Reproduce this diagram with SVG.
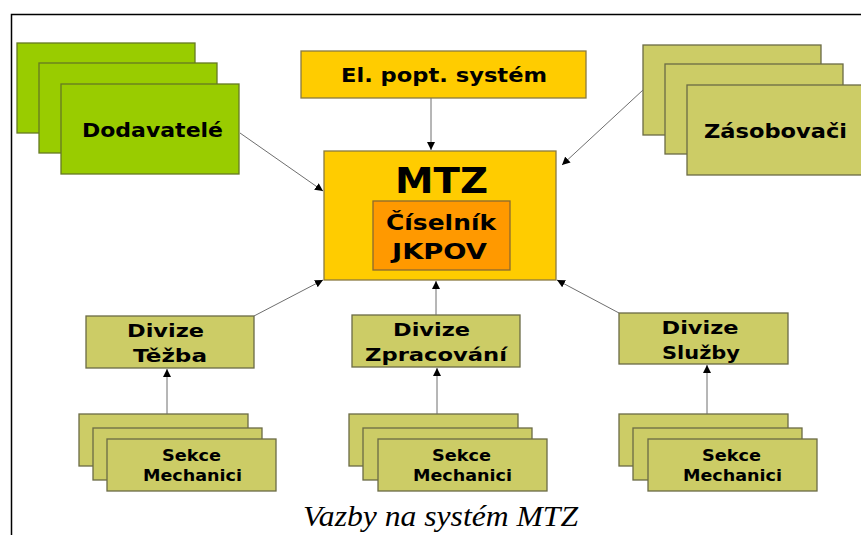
<svg xmlns="http://www.w3.org/2000/svg" width="861" height="535" viewBox="0 0 861 535">
<defs>
<marker id="ah" viewBox="0 0 10 10" refX="10" refY="5" markerWidth="8" markerHeight="8" markerUnits="userSpaceOnUse" orient="auto">
<path d="M0,0 L10,5 L0,10 z" fill="#000"/>
</marker>
<style>
.g{fill:#99cc00;stroke:#667a22;stroke-width:1.3}
.o{fill:#cccc66;stroke:#6b6b45;stroke-width:1.3}
.y{fill:#ffcc00;stroke:#8a7a40;stroke-width:1.3}
.or{fill:#ff9900;stroke:#8a6a30;stroke-width:1.3}
.t{font-family:"DejaVu Sans",Verdana,sans-serif;font-weight:bold;fill:#000;text-anchor:middle}
.c{stroke:#6e6e6e;stroke-width:1;fill:none;marker-end:url(#ah)}
</style>
</defs>
<rect width="861" height="535" fill="#fff"/>
<path d="M11.5,535 V14.5 H861" fill="none" stroke="#000" stroke-width="1.5"/>

<g id="dodavatele">
<rect class="g" x="17" y="43" width="178" height="90"/>
<rect class="g" x="39" y="63" width="178" height="90"/>
<rect class="g" x="61" y="84" width="178" height="90"/>
<text class="t" x="152.5" y="137" font-size="19.5" textLength="141" lengthAdjust="spacingAndGlyphs">Dodavatelé</text>
</g>

<g id="elpopt">
<rect class="y" x="301" y="51" width="285" height="47"/>
<text class="t" x="444" y="82" font-size="19.5" textLength="206" lengthAdjust="spacingAndGlyphs">El. popt. systém</text>
</g>

<g id="zasobovaci">
<rect class="o" x="643" y="45" width="178" height="90"/>
<rect class="o" x="665" y="64" width="178" height="90"/>
<rect class="o" x="687" y="85" width="178" height="90"/>
<text class="t" x="775.5" y="138" font-size="19.5" textLength="143" lengthAdjust="spacingAndGlyphs">Zásobovači</text>
</g>

<g id="mtz">
<rect class="y" x="324" y="151" width="232" height="129"/>
<text class="t" x="441.5" y="193" font-size="36" textLength="93" lengthAdjust="spacingAndGlyphs">MTZ</text>
<rect class="or" x="373" y="201" width="137" height="69"/>
<text class="t" x="441" y="230" font-size="22" textLength="110" lengthAdjust="spacingAndGlyphs">Číselník</text>
<text class="t" x="439.5" y="259" font-size="22" textLength="95" lengthAdjust="spacingAndGlyphs">JKPOV</text>
</g>

<g id="divize-tezba">
<rect class="o" x="86" y="316" width="168" height="52"/>
<text class="t" x="165.5" y="337" font-size="18" textLength="77" lengthAdjust="spacingAndGlyphs">Divize</text>
<text class="t" x="170" y="362" font-size="18" textLength="74" lengthAdjust="spacingAndGlyphs">Těžba</text>
</g>

<g id="divize-zpracovani">
<rect class="o" x="352" y="315" width="168" height="52"/>
<text class="t" x="431.5" y="336" font-size="18" textLength="77" lengthAdjust="spacingAndGlyphs">Divize</text>
<text class="t" x="436" y="361" font-size="18" textLength="142" lengthAdjust="spacingAndGlyphs">Zpracování</text>
</g>

<g id="divize-sluzby">
<rect class="o" x="619" y="313" width="169" height="51"/>
<text class="t" x="700" y="334" font-size="18" textLength="77" lengthAdjust="spacingAndGlyphs">Divize</text>
<text class="t" x="701" y="359" font-size="18" textLength="78" lengthAdjust="spacingAndGlyphs">Služby</text>
</g>

<g id="sekce-tezba">
<rect class="o" x="79" y="414" width="169" height="52"/>
<rect class="o" x="93" y="428" width="169" height="52"/>
<rect class="o" x="107" y="439" width="169" height="52"/>
<text class="t" x="191.5" y="461" font-size="16.5" textLength="59" lengthAdjust="spacingAndGlyphs">Sekce</text>
<text class="t" x="192.5" y="481" font-size="16.5" textLength="99" lengthAdjust="spacingAndGlyphs">Mechanici</text>
</g>

<g id="sekce-zpracovani">
<rect class="o" x="349" y="414" width="169" height="52"/>
<rect class="o" x="363" y="428" width="169" height="52"/>
<rect class="o" x="378" y="439" width="169" height="52"/>
<text class="t" x="461.5" y="461" font-size="16.5" textLength="59" lengthAdjust="spacingAndGlyphs">Sekce</text>
<text class="t" x="462.5" y="481" font-size="16.5" textLength="99" lengthAdjust="spacingAndGlyphs">Mechanici</text>
</g>

<g id="sekce-sluzby">
<rect class="o" x="619" y="414" width="169" height="52"/>
<rect class="o" x="633" y="428" width="169" height="52"/>
<rect class="o" x="648" y="439" width="169" height="52"/>
<text class="t" x="731.5" y="461" font-size="16.5" textLength="59" lengthAdjust="spacingAndGlyphs">Sekce</text>
<text class="t" x="732.5" y="481" font-size="16.5" textLength="99" lengthAdjust="spacingAndGlyphs">Mechanici</text>
</g>

<g id="connectors">
<line class="c" x1="431" y1="98" x2="431" y2="150"/>
<line class="c" x1="240" y1="133" x2="323" y2="191"/>
<line class="c" x1="643" y1="90" x2="562" y2="165"/>
<line class="c" x1="254" y1="316" x2="323" y2="280"/>
<line class="c" x1="436" y1="315" x2="436" y2="281"/>
<line class="c" x1="619" y1="313" x2="557" y2="280"/>
<line class="c" x1="167" y1="414" x2="167" y2="369"/>
<line class="c" x1="437" y1="414" x2="437" y2="368"/>
<line class="c" x1="707" y1="414" x2="707" y2="365"/>
</g>

<text x="440.5" y="526" font-family="'Liberation Serif','Times New Roman',serif" font-style="italic" font-size="29" text-anchor="middle" fill="#000" textLength="275" lengthAdjust="spacingAndGlyphs">Vazby na systém MTZ</text>
</svg>
